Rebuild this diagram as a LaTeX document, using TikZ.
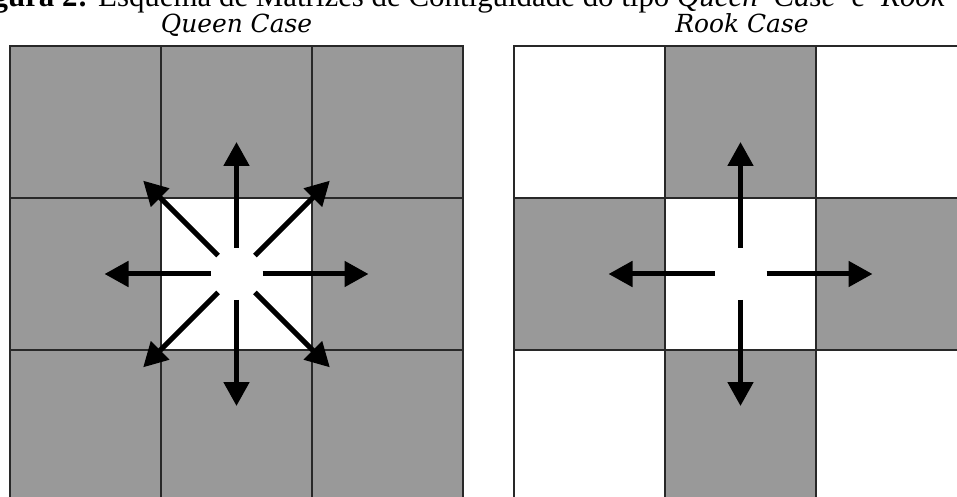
\documentclass[tikz,border=0pt]{standalone}
\usepackage{fontspec}
\setmainfont{Liberation Serif}
\newfontfamily\titlefont{DejaVu Serif}
\usetikzlibrary{arrows.meta,calc}
\definecolor{cgray}{RGB}{153,153,153}
\definecolor{gline}{RGB}{40,40,40}
\begin{document}
\begin{tikzpicture}[x=1bp,y=-1bp,
  cell/.style={draw=gline,line width=1.6bp,inner sep=0pt,minimum width=151bp,minimum height=152bp},
  gcell/.style={cell,fill=cgray},
  wcell/.style={cell,fill=white},
  arr/.style={line width=5bp,-{Triangle[length=24bp,width=25bp]}},
  ttl/.style={font=\titlefont\itshape\fontsize{25}{30}\selectfont,anchor=base,inner sep=0pt},
]
\useasboundingbox (0,0) rectangle (957,497);
\clip (0,0) rectangle (957,497);
% caption (cropped)
\node[anchor=base west,inner sep=0pt,font=\fontsize{31}{36}\selectfont] (cap) at (-35,7)
  {\textbf{Figura 2:} Esquema de Matrizes de Contiguidade do tipo \textit{Queen\hspace{16bp}Case}\hspace{16bp}e\hspace{16bp}\textit{Rook\hspace{12bp}Case}};
% titles
\node[ttl] (tq) at (236.5,33) {Queen Case};
\node[ttl] (tr) at (742,33) {Rook Case};
% queen grid
\node[gcell] (q11) at (85.5,122) {};
\node[gcell] (q12) at (236.5,122) {};
\node[gcell] (q13) at (387.5,122) {};
\node[gcell] (q21) at (85.5,274) {};
\node[wcell] (q22) at (236.5,274) {};
\node[gcell] (q23) at (387.5,274) {};
\node[gcell] (q31) at (85.5,426) {};
\node[gcell] (q32) at (236.5,426) {};
\node[gcell] (q33) at (387.5,426) {};
% rook grid
\node[wcell] (r11) at (589.5,122) {};
\node[gcell] (r12) at (740.5,122) {};
\node[wcell] (r13) at (891.5,122) {};
\node[gcell] (r21) at (589.5,274) {};
\node[wcell] (r22) at (740.5,274) {};
\node[gcell] (r23) at (891.5,274) {};
\node[wcell] (r31) at (589.5,426) {};
\node[gcell] (r32) at (740.5,426) {};
\node[wcell] (r33) at (891.5,426) {};
% arrows
\foreach \a in {0,45,...,315}
  \draw[arr] ($(q22.center)+(\a:26)$) -- ($(q22.center)+(\a:132)$);
\foreach \a in {0,90,180,270}
  \draw[arr] ($(r22.center)+(\a:26)$) -- ($(r22.center)+(\a:132)$);
\end{tikzpicture}
\end{document}
